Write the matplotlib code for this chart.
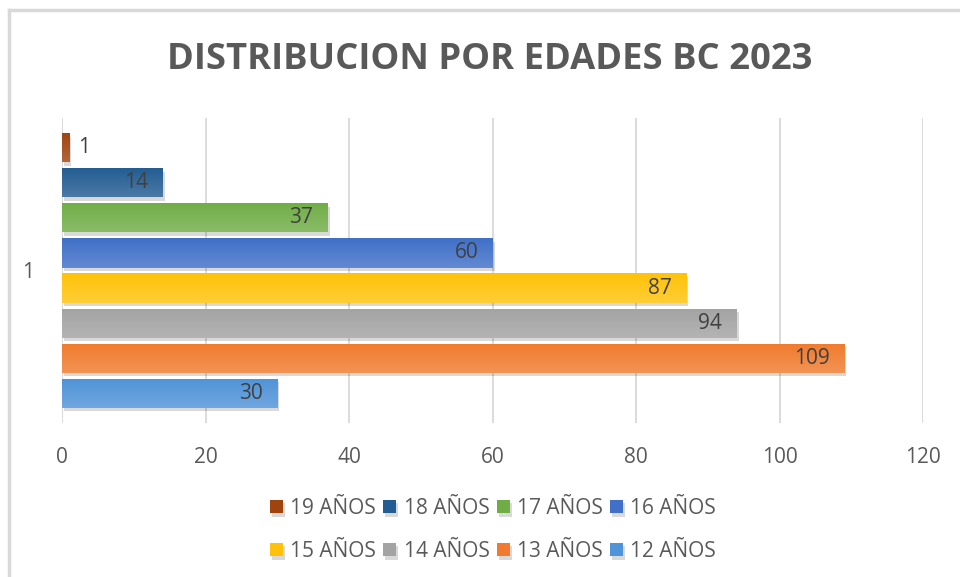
import numpy as np
import matplotlib.pyplot as plt
import matplotlib.patheffects as pe
import matplotlib.colors as mcolors
from matplotlib.lines import Line2D

plt.rcParams['font.family'] = ['Open Sans', 'DejaVu Sans']

# datos (orden de Excel: la primera serie queda abajo)
series = ["12 AÑOS", "13 AÑOS", "14 AÑOS", "15 AÑOS", "16 AÑOS", "17 AÑOS", "18 AÑOS", "19 AÑOS"]
valores = [30, 109, 94, 87, 60, 37, 14, 1]
colores = ["#4F93D8", "#F07B2E", "#A3A3A3", "#FFC20A", "#4070C8", "#70AD47", "#235C92", "#A0440F"]
categoria = "1"
xticks = [0, 20, 40, 60, 80, 100, 120]

fig = plt.figure(figsize=(9.6, 5.77), dpi=100)
ax = fig.add_axes([62 / 960, 1 - 423 / 577, (923 - 62) / 960, (423 - 118) / 577])

texto = "#595959"
n = len(series)
alto = 0.83
for i, (s, v, c) in enumerate(zip(series, valores, colores)):
    y = i - (n - 1) / 2
    b = ax.barh(y, v, height=alto, color=c, label=s, zorder=3)
    b[0].set_path_effects([pe.SimplePatchShadow(offset=(1.5, -2.5), shadow_rgbFace="#000000", alpha=0.15), pe.Normal()])
    # degradado suave: arriba mas claro, abajo el color base
    base = np.array(mcolors.to_rgb(c))
    claro = base + (1 - base) * 0.18
    t = np.linspace(0, 1, 50)[:, None]
    grad = (claro * (1 - t) + base * t)[:, None, :]
    im = ax.imshow(grad, extent=(0, v, y + alto / 2, y - alto / 2), aspect="auto", zorder=3.5, interpolation="bilinear")
    im.set_clip_path(b[0])
    if v > 5:
        ax.text(v - 2, y, str(v), ha="right", va="center", fontsize=15, color="#404040", zorder=4)
    else:
        ax.text(v + 1.3, y, str(v), ha="left", va="center", fontsize=15, color="#404040", zorder=4)

ax.set_xlim(0, 120)
ax.set_ylim(-4.35, 4.35)
ax.set_xticks(xticks)
ax.set_yticks([0])
ax.set_yticklabels([categoria])
ax.grid(axis="x", color="#D9D9D9", linewidth=1.3, zorder=0)
for sp in ax.spines.values():
    sp.set_visible(False)
ax.tick_params(axis="both", length=0, labelsize=15, labelcolor=texto)
ax.tick_params(axis="x", pad=17)
ax.tick_params(axis="y", pad=20)

fig.text(490 / 960, 1 - 60 / 577, "DISTRIBUCION POR EDADES BC 2023", ha="center", va="center",
         fontsize=26.2, fontweight="bold", color=texto)

# leyenda en filas: 19 18 17 16 / 15 14 13 12
h, l = ax.get_legend_handles_labels()
orden = [7, 3, 6, 2, 5, 1, 4, 0]
leg = fig.legend([h[k] for k in orden], [l[k] for k in orden], ncol=4, loc="center",
                 bbox_to_anchor=(493 / 960, 1 - 530 / 577),
                 frameon=False, fontsize=15, labelcolor=texto, handlelength=0.62, handleheight=0.62,
                 handletextpad=0.35, columnspacing=0.35, labelspacing=1.05)

# borde del area del grafico (solo se ve arriba e izquierda)
fig.add_artist(Line2D([9 / 960, 9 / 960], [0, 1 - 10 / 577], color="#D9D9D9", linewidth=2.5))
fig.add_artist(Line2D([9 / 960, 1], [1 - 10 / 577, 1 - 10 / 577], color="#D9D9D9", linewidth=2.5))

fig.savefig("out.png", dpi=100)
